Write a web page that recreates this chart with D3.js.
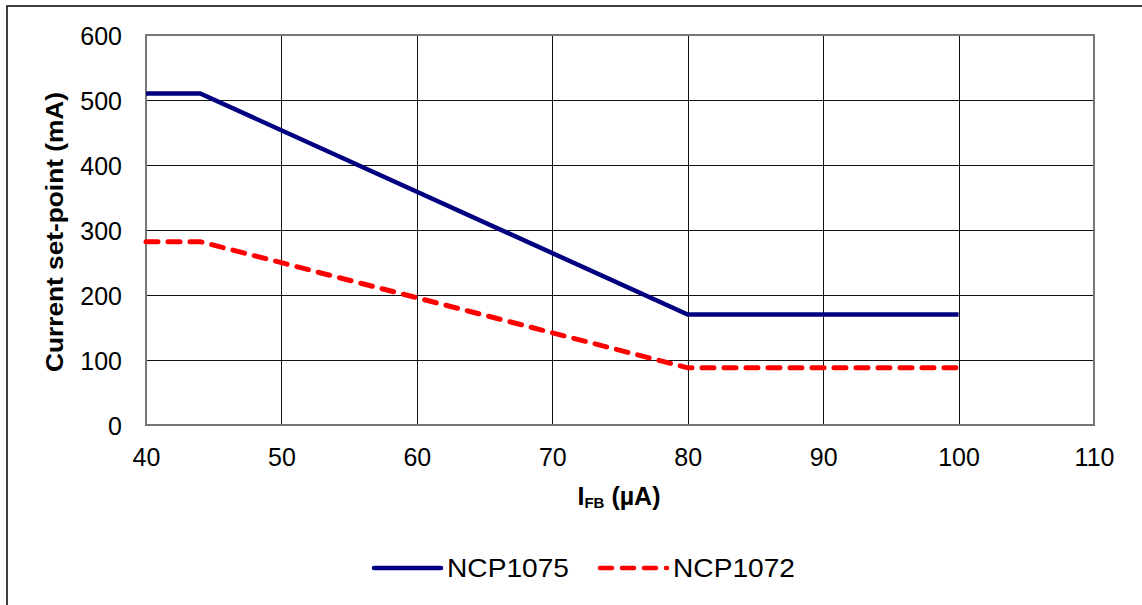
<!DOCTYPE html>
<html lang="en">
<head>
  <meta charset="UTF-8">
  <title>Current set-point vs IFB</title>
  <style>
    body { margin: 0; background: #fff; }
    svg { display: block; font-family: "Liberation Sans", Arial, sans-serif; }
  </style>
</head>
<body>
  <svg class="chart"></svg>
  <script src="https://d3js.org/d3.v7.min.js"></script>
  <script>
    var ifb     = [40, 44, 80, 100],
        ncp1075 = [510, 510, 170, 170],
        ncp1072 = [282, 282, 88, 88],
        xTicks  = [40, 50, 60, 70, 80, 90, 100, 110],
        yTicks  = [0, 100, 200, 300, 400, 500, 600];

    var W = 1142, H = 605,
        pLeft = 146, pRight = 1094, pTop = 35, pBottom = 425;

    var svg = d3.select(".chart").attr("width", W).attr("height", H);

    // outer frame
    svg.append("rect")
      .attr("x", 7).attr("y", 6).attr("width", W).attr("height", H + 10)
      .attr("fill", "none").attr("stroke", "#000").attr("stroke-width", 1.5);

    var x = d3.scaleLinear().domain([40, 110]).range([pLeft, pRight]);
    var y = d3.scaleLinear().domain([0, 600]).range([pBottom, pTop]);

    // grid
    svg.append("g").attr("shape-rendering", "crispEdges")
      .selectAll("line").data(xTicks.slice(1, -1)).enter().append("line")
      .attr("x1", d => Math.round(x(d)) + 0.5).attr("x2", d => Math.round(x(d)) + 0.5)
      .attr("y1", pTop).attr("y2", pBottom)
      .attr("stroke", "#111").attr("stroke-width", 1);
    svg.append("g").attr("shape-rendering", "crispEdges")
      .selectAll("line").data(yTicks.slice(1, -1)).enter().append("line")
      .attr("x1", pLeft).attr("x2", pRight)
      .attr("y1", d => Math.round(y(d)) + 0.5).attr("y2", d => Math.round(y(d)) + 0.5)
      .attr("stroke", "#111").attr("stroke-width", 1);

    // plot border
    svg.append("rect")
      .attr("x", pLeft).attr("y", pTop).attr("width", pRight - pLeft).attr("height", pBottom - pTop)
      .attr("fill", "none").attr("stroke", "#777").attr("stroke-width", 2);

    // axes (labels only)
    var xAxis = svg.append("g").attr("transform", `translate(0,${pBottom})`)
      .call(d3.axisBottom(x).tickValues(xTicks).tickSize(0).tickPadding(23));
    var yAxis = svg.append("g").attr("transform", `translate(${pLeft},0)`)
      .call(d3.axisLeft(y).tickValues(yTicks).tickSize(0).tickPadding(24));
    [xAxis, yAxis].forEach(a => {
      a.select(".domain").remove();
      a.attr("font-size", null).attr("font-family", null);
      a.selectAll("text").attr("font-size", 25).attr("fill", "#000");
    });
    yAxis.selectAll("text").attr("dy", "0.36em");

    // axis titles
    var xt = svg.append("text").attr("x", 619).attr("y", 505)
      .attr("text-anchor", "middle").attr("font-size", 25).attr("font-weight", "bold");
    xt.append("tspan").text("I");
    xt.append("tspan").text("FB").attr("font-size", 15).attr("dy", 3);
    xt.append("tspan").text(" (µA)").attr("dy", -3);

    svg.append("text")
      .attr("transform", "translate(63,232) rotate(-90)")
      .attr("text-anchor", "middle").attr("font-size", 23).attr("font-weight", "bold")
      .attr("textLength", 280).attr("lengthAdjust", "spacingAndGlyphs")
      .text("Current set-point (mA)");

    // series
    var line = d3.line().x((d, i) => x(ifb[i])).y(d => y(d));
    svg.append("path").datum(ncp1072).attr("d", line)
      .attr("fill", "none").attr("stroke", "#ff0000").attr("stroke-width", 5)
      .attr("stroke-linecap", "round")
      .attr("stroke-dasharray", "12,10");
    svg.append("path").datum(ncp1075).attr("d", line)
      .attr("fill", "none").attr("stroke", "#000080").attr("stroke-width", 4.5);

    // legend
    var legend = [
      { name: "NCP1075", color: "#000080", dash: null, x: 372 },
      { name: "NCP1072", color: "#ff0000", dash: "12,10", x: 598 }
    ];
    var lg = svg.append("g").selectAll("g").data(legend).enter().append("g")
      .attr("transform", d => `translate(${d.x},568)`);
    lg.append("line").attr("x1", 2).attr("x2", 69)
      .attr("stroke", d => d.color).attr("stroke-width", 4.5)
      .attr("stroke-linecap", "round")
      .attr("stroke-dasharray", d => d.dash);
    lg.append("text").attr("x", 75).attr("y", 9).attr("font-size", 25)
      .attr("textLength", 122).attr("lengthAdjust", "spacingAndGlyphs")
      .text(d => d.name);
  </script>
</body>
</html>
